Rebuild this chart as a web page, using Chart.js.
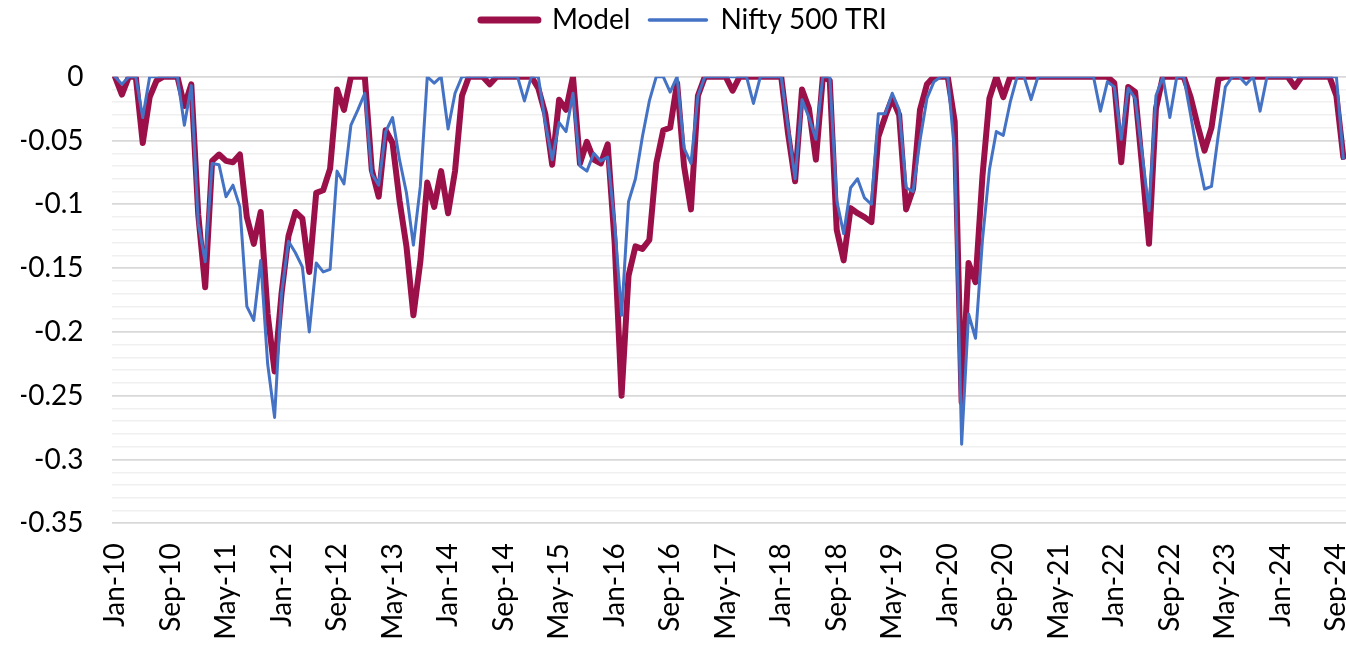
<!DOCTYPE html>
<html>
<head>
<meta charset="utf-8">
<script src="https://cdn.jsdelivr.net/npm/chart.js@4.4.1/dist/chart.umd.min.js"></script>
<style>
html,body{margin:0;padding:0;overflow:hidden;background:#fff;}
#wrap{width:1380px;height:645px;}
</style>
</head>
<body>
<div id="wrap"><canvas id="c" width="1380" height="645"></canvas></div>
<script>
// ---- data ----
const monthNames = ['Jan','Feb','Mar','Apr','May','Jun','Jul','Aug','Sep','Oct','Nov','Dec'];
const categories = [];
for (let y = 10; y <= 24; y++) {
  for (let m = 0; m < 12; m++) {
    if (y === 24 && m > 9) break;
    categories.push(monthNames[m] + '-' + String(y).padStart(2, '0'));
  }
}
const seriesNames = ['Model', 'Nifty 500 TRI'];

const modelValues = [
  0, -0.014, 0, 0, -0.052, -0.016, -0.003, 0, 0, 0, -0.023, -0.006,               // 2010
  -0.108, -0.165, -0.066, -0.061, -0.066, -0.067, -0.061, -0.11, -0.131, -0.106, -0.186, -0.231, // 2011
  -0.17, -0.125, -0.106, -0.111, -0.153, -0.091, -0.089, -0.072, -0.01, -0.026, 0, 0,            // 2012
  0, -0.073, -0.094, -0.042, -0.052, -0.097, -0.133, -0.187, -0.145, -0.083, -0.102, -0.074,     // 2013
  -0.107, -0.074, -0.015, 0, 0, 0, -0.006, 0, 0, 0, 0, 0,                          // 2014
  0, -0.009, -0.029, -0.069, -0.018, -0.026, 0, -0.068, -0.051, -0.065, -0.068, -0.053,          // 2015
  -0.13, -0.25, -0.156, -0.133, -0.135, -0.128, -0.068, -0.042, -0.04, -0.005, -0.07, -0.104,    // 2016
  -0.015, 0, 0, 0, 0, -0.011, 0, 0, 0, 0, 0, 0,                                   // 2017
  0, -0.045, -0.082, -0.01, -0.025, -0.065, 0, -0.003, -0.12, -0.144, -0.103, -0.107,            // 2018
  -0.11, -0.114, -0.047, -0.031, -0.017, -0.03, -0.104, -0.088, -0.026, -0.006, 0, 0,            // 2019
  0, -0.035, -0.255, -0.146, -0.161, -0.078, -0.017, 0, -0.016, 0, 0, 0,          // 2020
  0, 0, 0, 0, 0, 0, 0, 0, 0, 0, 0, 0,                                             // 2021
  -0.005, -0.067, -0.008, -0.012, -0.07, -0.131, -0.025, 0, 0, 0, 0, -0.016,       // 2022
  -0.038, -0.058, -0.04, -0.002, 0, 0, 0, 0, 0, 0, 0, 0,                           // 2023
  0, 0, -0.008, 0, 0, 0, 0, 0, -0.015, -0.063                                      // 2024
];

const niftyValues = [
  0, -0.006, 0, 0, -0.032, 0, 0, 0, 0, 0, -0.038, -0.007,                          // 2010
  -0.115, -0.145, -0.068, -0.069, -0.094, -0.085, -0.102, -0.18, -0.191, -0.144, -0.225, -0.267, // 2011
  -0.17, -0.129, -0.138, -0.149, -0.2, -0.146, -0.153, -0.151, -0.074, -0.084, -0.038, -0.026,   // 2012
  -0.013, -0.076, -0.085, -0.043, -0.032, -0.065, -0.091, -0.132, -0.086, 0, -0.005, 0,          // 2013
  -0.041, -0.013, 0, 0, 0, 0, 0, 0, 0, 0, 0, -0.019,                               // 2014
  0, 0, -0.036, -0.065, -0.036, -0.043, -0.013, -0.07, -0.074, -0.06, -0.066, -0.063,            // 2015
  -0.115, -0.187, -0.098, -0.08, -0.047, -0.019, 0, 0, -0.012, 0, -0.056, -0.068,                // 2016
  -0.015, 0, 0, 0, 0, 0, 0, 0, -0.021, 0, 0, 0,                                   // 2017
  0, -0.04, -0.08, -0.018, -0.032, -0.049, 0, 0, -0.097, -0.123, -0.087, -0.08,                  // 2018
  -0.095, -0.1, -0.029, -0.029, -0.013, -0.026, -0.087, -0.09, -0.05, -0.017, -0.004, 0,         // 2019
  0, -0.06, -0.288, -0.186, -0.205, -0.128, -0.073, -0.043, -0.046, -0.02, 0, 0,                 // 2020
  -0.018, 0, 0, 0, 0, 0, 0, 0, 0, 0, -0.027, -0.004,                               // 2021
  -0.008, -0.049, -0.009, -0.017, -0.06, -0.105, -0.015, 0, -0.032, 0, 0, -0.03,                 // 2022
  -0.062, -0.088, -0.086, -0.045, -0.008, 0, 0, -0.006, 0, -0.027, 0, 0,                         // 2023
  0, 0, 0, 0, 0, 0, 0, 0, 0, -0.064                                                // 2024
];

const yMajorTickValues = [0, -0.05, -0.1, -0.15, -0.2, -0.25, -0.3, -0.35];
const xLabelStep = 8;

// ---- chart ----
const FONT = 'Lato';
const TEXT = '#000000';
Chart.defaults.font.family = FONT;

const isMajor = v => yMajorTickValues.some(t => Math.abs(t - v) < 1e-6);

new Chart(document.getElementById('c'), {
  type: 'line',
  data: {
    labels: categories,
    datasets: [
      {
        label: seriesNames[0], data: modelValues,
        borderColor: '#9B1048', backgroundColor: '#9B1048',
        borderWidth: 6, pointRadius: 0, pointHoverRadius: 0, tension: 0,
        borderJoinStyle: 'round', borderCapStyle: 'round', order: 1
      },
      {
        label: seriesNames[1], data: niftyValues,
        borderColor: '#4472C4', backgroundColor: '#4472C4',
        borderWidth: 3, pointRadius: 0, pointHoverRadius: 0, tension: 0,
        borderJoinStyle: 'round', borderCapStyle: 'round', order: 0
      }
    ]
  },
  options: {
    responsive: false,
    animation: false,
    devicePixelRatio: 1,
    layout: { padding: { left: 21, right: 33.2, top: -13, bottom: 0 } },
    plugins: {
      legend: {
        display: true, position: 'top', weight: 3000, reverse: true,
        labels: {
          font: { family: FONT, size: 28 }, color: TEXT,
          usePointStyle: true, pointStyle: 'line', pointStyleWidth: 57, padding: 19,
          generateLabels(chart) {
            const items = Chart.defaults.plugins.legend.labels.generateLabels(chart);
            items.forEach(it => { it.lineWidth = it.text === seriesNames[0] ? 7 : 3.5; it.lineCap = 'round'; });
            return items;
          }
        }
      },
      title: { display: true, text: '', padding: { top: 32.7, bottom: 0 }, font: { size: 0.001, lineHeight: 0.001 } },
      tooltip: { enabled: false }
    },
    scales: {
      x: {
        type: 'category', offset: true,
        grid: { display: false, drawTicks: false },
        border: { display: false },
        ticks: {
          autoSkip: false, minRotation: 90, maxRotation: 90, padding: 20,
          font: { family: FONT, size: 28 }, color: TEXT,
          callback: (v, i) => (i % xLabelStep === 0 ? categories[i] : '')
        },
        afterFit(s) { s.height = 645 - 523.3; s.paddingLeft = 0; s.paddingRight = 0; }
      },
      y: {
        min: -0.35, max: 0,
        grid: {
          drawTicks: false,
          color: c => (isMajor(c.tick ? c.tick.value : 0) ? '#D9D9D9' : '#F0F0F0'),
          lineWidth: c => (isMajor(c.tick ? c.tick.value : 0) ? 1.8 : 1.5)
        },
        border: { display: false },
        ticks: {
          stepSize: 0.01, autoSkip: false, padding: 28,
          font: { family: FONT, size: 28 }, color: TEXT,
          callback: v => {
            const t = yMajorTickValues.find(m => Math.abs(m - v) < 1e-6);
            return t === undefined ? '' : String(t);
          }
        },
        afterFit(s) { s.width = 90.5; s.paddingTop = 0; s.paddingBottom = 0; }
      }
    }
  }
});
</script>
</body>
</html>
